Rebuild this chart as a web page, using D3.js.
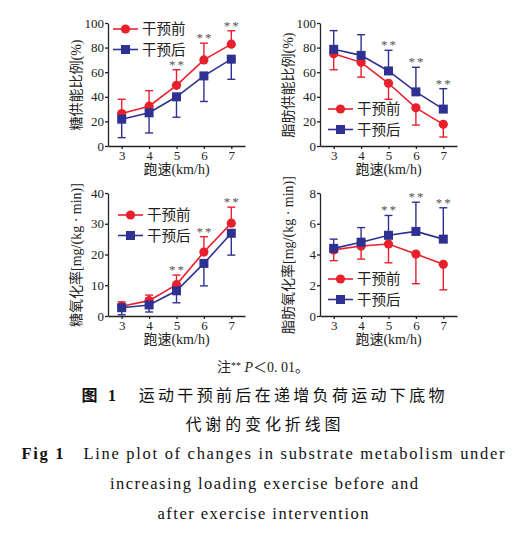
<!DOCTYPE html>
<html>
<head>
<meta charset="utf-8">
<script src="https://cdn.jsdelivr.net/npm/d3@7"></script>
<style>
  body { margin: 0; background: #fff; }
  text { font-family: "Liberation Serif", "Noto Sans CJK SC", serif; }
</style>
</head>
<body>
<div id="chart-area"></div>
<script>
// speeds (km/h)
var speeds = [3, 4, 5, 6, 7];
var sigSpeeds = [5, 6, 7];

// carbohydrate share of energy (%)
var choRatioPre = [26.4, 32.4, 49.3, 70, 82.8];
var choRatioPreSD = [11.6, 12.6, 12.7, 13.6, 10.9];
var choRatioPost = [21.8, 27, 40, 57, 70.6];
var choRatioPostSD = [15, 16.4, 16.6, 20.8, 16.4];

// fat share of energy (%)
var fatRatioPre = [75, 68, 51, 31, 17.6];
var fatRatioPreSD = [13, 12, 13, 14, 10.3];
var fatRatioPost = [78.6, 73.7, 61, 44, 30];
var fatRatioPostSD = [15.2, 16.8, 16.8, 20, 16.6];

// carbohydrate oxidation rate mg/(kg·min)
var choOxPre = [3.2, 5, 10.2, 20.8, 30.2];
var choOxPreSD = [1.4, 1.8, 3.1, 5, 5.2];
var choOxPost = [2.7, 3.6, 8.2, 17.1, 26.9];
var choOxPostSD = [2.3, 2.3, 3.9, 7.3, 7.1];

// fat oxidation rate mg/(kg·min)
var fatOxPre = [4.3, 4.55, 4.68, 4.03, 3.36];
var fatOxPreSD = [0.7, 0.85, 1.22, 1.93, 1.66];
var fatOxPost = [4.4, 4.8, 5.25, 5.5, 5.0];
var fatOxPostSD = [0.6, 0.95, 1.29, 1.9, 2.04];

var yTicks1 = [0, 20, 40, 60, 80, 100];
var yTicks3 = [0, 10, 20, 30, 40];
var yTicks4 = [0, 2, 4, 6, 8];

var red = "#e8202c",
	blue = "#2e3192";

var svg = d3.select("#chart-area")
	.append("svg")
		.attr("width", 521)
		.attr("height", 550);

svg.append("rect").attr("width", 521).attr("height", 550).attr("fill", "#fff");

//one panel
function panel(opt) {
	var x = d3.scaleLinear().domain([2.5, 7.5]).range([opt.left, opt.left + 137]);
	var y = d3.scaleLinear().domain([0, opt.max]).range([opt.bottom, opt.bottom - 123]);
	var g = svg.append("g");

	var xAxis = g.append("g")
		.attr("transform", "translate(0," + opt.bottom + ")")
		.call(d3.axisBottom(x).tickValues(speeds).tickFormat(d3.format("d"))
			.tickSize(3).tickSizeOuter(0).tickPadding(2));
	var yAxis = g.append("g")
		.attr("transform", "translate(" + opt.left + ",0)")
		.call(d3.axisLeft(y).tickValues(opt.ticks).tickSize(3).tickSizeOuter(0).tickPadding(1));

	[xAxis, yAxis].forEach(function(a){
		a.selectAll("path, line").attr("stroke", "#222").attr("stroke-width", 1.3);
		a.selectAll("text").attr("font-size", 13).attr("fill", "#222")
			.style("font-family", "Liberation Serif");
	});

	g.append("text")
		.attr("x", (x.range()[0] + x.range()[1]) / 2)
		.attr("y", opt.bottom + 28)
		.attr("text-anchor", "middle")
		.attr("font-size", 14)
		.attr("fill", "#222")
		.text("跑速(km/h)");

	g.append("text")
		.attr("transform", "translate(" + (opt.left - 27) + "," + (opt.bottom - 61) + ") rotate(-90)")
		.attr("text-anchor", "middle")
		.attr("font-size", 14)
		.attr("fill", "#222")
		.text(opt.ylabel);

	var series = [
		{vals: opt.pre, sd: opt.preSD, up: opt.preUp, color: red, shape: "circle"},
		{vals: opt.post, sd: opt.postSD, up: !opt.preUp, color: blue, shape: "square"}
	];

	series.forEach(function(s){
		var pts = speeds.map(function(v, i){ return {x: v, y: s.vals[i], e: s.sd[i]}; });
		var ends = pts.map(function(d){ return s.up ? d.y + d.e : d.y - d.e; });

		g.selectAll(null).data(pts).enter().append("line")
			.attr("x1", function(d){ return x(d.x); })
			.attr("x2", function(d){ return x(d.x); })
			.attr("y1", function(d){ return y(d.y); })
			.attr("y2", function(d, i){ return y(ends[i]); })
			.attr("stroke", s.color).attr("stroke-width", 1.4);
		g.selectAll(null).data(pts).enter().append("line")
			.attr("x1", function(d){ return x(d.x) - 4; })
			.attr("x2", function(d){ return x(d.x) + 4; })
			.attr("y1", function(d, i){ return y(ends[i]); })
			.attr("y2", function(d, i){ return y(ends[i]); })
			.attr("stroke", s.color).attr("stroke-width", 1.4);

		g.append("path").datum(pts)
			.attr("fill", "none").attr("stroke", s.color).attr("stroke-width", 1.6)
			.attr("d", d3.line().x(function(d){ return x(d.x); }).y(function(d){ return y(d.y); }));

		if (s.shape == "circle") {
			g.selectAll(null).data(pts).enter().append("circle")
				.attr("cx", function(d){ return x(d.x); })
				.attr("cy", function(d){ return y(d.y); })
				.attr("r", 4.6).attr("fill", s.color);
		} else {
			g.selectAll(null).data(pts).enter().append("rect")
				.attr("x", function(d){ return x(d.x) - 4.5; })
				.attr("y", function(d){ return y(d.y) - 4.5; })
				.attr("width", 9).attr("height", 9).attr("fill", s.color);
		}
	});

	//significance stars above the highest bar
	sigSpeeds.forEach(function(v){
		var i = speeds.indexOf(v);
		var top = Math.max(
			opt.preUp ? opt.pre[i] + opt.preSD[i] : opt.pre[i],
			opt.preUp ? opt.post[i] : opt.post[i] + opt.postSD[i]);
		g.append("text")
			.attr("x", x(v) + 1)
			.attr("y", y(top) - 1)
			.attr("text-anchor", "middle")
			.attr("font-size", 13)
			.attr("letter-spacing", 2)
			.attr("fill", "#555")
			.text("**");
	});

	//legend
	var leg = [["干预前", red, "circle"], ["干预后", blue, "square"]];
	leg.forEach(function(l, i){
		var ly = opt.legY + i * 20.5;
		g.append("line")
			.attr("x1", opt.legX).attr("x2", opt.legX + 25)
			.attr("y1", ly).attr("y2", ly)
			.attr("stroke", l[1]).attr("stroke-width", 1.6);
		if (l[2] == "circle") {
			g.append("circle").attr("cx", opt.legX + 12.5).attr("cy", ly).attr("r", 4.6).attr("fill", l[1]);
		} else {
			g.append("rect").attr("x", opt.legX + 8).attr("y", ly - 4.5)
				.attr("width", 9).attr("height", 9).attr("fill", l[1]);
		}
		g.append("text")
			.attr("x", opt.legX + 29)
			.attr("y", ly + 5)
			.attr("font-size", 14.5)
			.attr("fill", "#222")
			.text(l[0]);
	});
}

panel({left: 108, bottom: 146, max: 100, ticks: yTicks1, ylabel: "糖供能比例(%)",
	pre: choRatioPre, preSD: choRatioPreSD, post: choRatioPost, postSD: choRatioPostSD, preUp: true,
	legX: 113, legY: 29});
panel({left: 320, bottom: 146, max: 100, ticks: yTicks1, ylabel: "脂肪供能比例(%)",
	pre: fatRatioPre, preSD: fatRatioPreSD, post: fatRatioPost, postSD: fatRatioPostSD, preUp: false,
	legX: 328, legY: 109});
panel({left: 108, bottom: 316, max: 40, ticks: yTicks3, ylabel: "糖氧化率[mg/(kg · min)]",
	pre: choOxPre, preSD: choOxPreSD, post: choOxPost, postSD: choOxPostSD, preUp: true,
	legX: 118, legY: 215});
panel({left: 320, bottom: 316, max: 8, ticks: yTicks4, ylabel: "脂肪氧化率[mg/(kg · min)]",
	pre: fatOxPre, preSD: fatOxPreSD, post: fatOxPost, postSD: fatOxPostSD, preUp: false,
	legX: 328, legY: 279});

//caption
var note = svg.append("text")
	.attr("x", 263).attr("y", 372)
	.attr("text-anchor", "middle")
	.attr("font-size", 14)
	.attr("fill", "#222");
note.append("tspan").text("注");
note.append("tspan").attr("font-size", 10).attr("dy", -3).text("**");
note.append("tspan").attr("dy", 3).attr("font-style", "italic").text(" P");
note.append("tspan").text("＜0. 01。");

function caption(txt, cx, y, width, size, bold) {
	var t = svg.append("text")
		.attr("x", cx).attr("y", y)
		.attr("text-anchor", "middle")
		.attr("font-size", size)
		.attr("fill", "#111");
	if (bold) {
		t.append("tspan").attr("font-weight", "bold").text(bold);
	}
	t.append("tspan").text(txt);
	t.attr("textLength", width).attr("lengthAdjust", "spacing");
}

caption("　运动干预前后在递增负荷运动下底物", 263, 401, 363, 16, "图 1");
caption("代谢的变化折线图", 263, 430, 155, 16);
caption("　Line plot of changes in substrate metabolism under", 263, 459, 483, 16.5, "Fig 1");
caption("increasing loading exercise before and", 264, 489, 308, 16.5);
caption("after exercise intervention", 263, 519, 211, 16.5);
</script>
</body>
</html>
